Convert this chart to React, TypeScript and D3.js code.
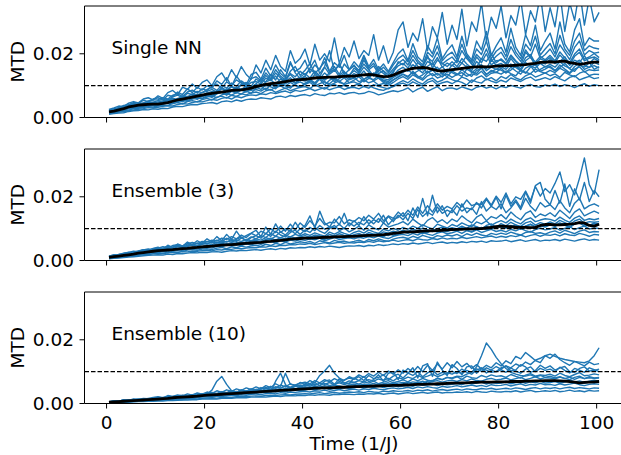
import React from "react";
import * as d3 from "d3";

// Values are MTD in units of 1e-4, sampled once per time unit (t = 0.5 … 100.5).
const UNIT = 1e-4;
const TIME = d3.range(0.5, 101, 1);
const PANEL_TITLES = ["Single NN", "Ensemble (3)", "Ensemble (10)"];
const X_TICKS = [0, 20, 40, 60, 80, 100];
const Y_TICKS = [0, 0.02];
const THRESHOLD = 0.01;
const X_LABEL = "Time (1/J)";
const Y_LABEL = "MTD";

const SINGLE_RUNS: number[][] = [
  [10,12,14,15,19,21,22,25,24,27, 26,29,28,33,35,34,38,41,40,44, 45,47,43,50,52,49,55,51,56,58, 57,62,60,58,65,67,63,69,66,70, 72,68,75,71,69,76,74,78,73,77, 79,74,76,82,78,71,75,80,84,81, 86,93,80,89,95,82,90,97,84,92, 93,88,96,91,86,95,99,92,97,90, 98,94,101,96,92,100,104,97,95,102, 99,105,97,103,100,94,101,106,98,103, 100],
  [12,14,17,19,21,24,26,28,31,30, 32,35,37,36,41,44,42,47,50,49, 53,57,54,60,63,58,66,62,68,71, 69,74,72,78,75,80,83,77,85,82, 86,91,84,89,94,87,92,96,88,93, 95,90,98,101,93,88,85,92,97,104, 108,101,112,105,99,110,116,103,109,113, 106,115,110,102,118,112,108,121,114,109, 117,111,124,118,113,122,127,116,120,125, 119,128,121,115,126,131,118,124,129,122, 125],
  [14,15,19,22,23,28,29,31,34,33, 36,39,38,44,47,43,50,53,49,56, 60,55,64,67,61,70,66,74,71,77, 80,75,84,88,79,86,92,84,90,95, 97,91,102,95,89,99,104,96,101,93, 100,106,97,92,103,98,94,90,99,108, 116,109,121,112,105,118,124,111,117,126, 119,113,127,121,110,124,131,118,125,115, 129,122,135,124,118,131,138,127,133,140, 131,137,126,142,134,128,139,145,132,136, 135],
  [15,18,20,24,27,29,33,32,37,38, 39,42,46,44,50,53,51,58,61,59, 64,68,62,71,75,70,78,74,82,85, 88,83,92,86,95,99,91,97,102,96, 104,110,99,106,113,101,108,115,103,109, 112,105,118,109,114,102,107,100,110,121, 128,120,134,125,117,131,138,124,130,136, 126,135,141,129,137,133,145,128,139,142, 136,146,138,131,149,142,137,152,144,139, 148,141,155,146,138,152,159,143,150,147, 149],
  [16,19,21,27,29,32,37,35,39,41, 38,44,49,45,53,57,52,61,65,60, 68,63,74,79,70,82,77,86,80,91, 95,88,102,96,90,105,99,110,101,94, 108,116,103,122,111,106,119,113,125,109, 117,128,112,123,119,131,114,108,118,127, 135,126,145,130,122,141,150,133,139,128, 146,137,129,152,143,138,156,134,148,141, 155,140,149,162,147,139,158,166,145,152, 161,148,157,170,153,145,164,158,172,151, 160],
  [17,20,24,26,31,34,36,39,41,42, 40,47,50,53,51,58,62,60,67,69, 72,69,77,82,75,86,83,90,94,88, 96,104,99,108,101,112,106,115,109,118, 114,121,108,125,117,129,112,122,131,118, 124,135,120,129,138,123,117,113,126,134, 142,150,137,146,155,140,148,158,135,152, 144,155,149,162,140,153,166,147,158,151, 160,151,168,157,146,172,163,155,170,159, 167,158,175,162,154,171,180,164,157,173, 166],
  [19,21,26,28,34,37,38,42,43,46, 45,49,55,51,60,64,59,69,72,68, 77,73,84,80,89,85,95,88,99,93, 104,97,112,118,105,121,113,125,108,119, 129,115,135,122,140,126,118,133,145,124, 138,129,146,125,140,135,122,118,132,149, 158,145,166,152,140,161,172,148,159,143, 165,152,171,158,147,176,160,153,182,164, 170,158,185,166,152,178,190,163,175,168, 182,169,176,191,164,180,172,194,170,185, 176],
  [20,23,27,31,35,38,42,41,47,45, 49,52,57,61,56,68,65,74,70,78, 82,88,79,93,86,98,91,104,96,110, 113,105,124,116,130,111,122,135,119,127, 138,124,146,131,120,142,150,128,139,133, 147,136,158,142,131,150,138,126,145,162, 170,155,182,161,150,176,165,188,158,171, 162,180,171,195,168,158,185,176,200,172, 184,170,196,178,165,205,188,174,192,181, 195,178,206,187,172,199,215,183,190,201, 188],
  [21,24,28,33,37,42,40,46,50,48, 53,57,54,65,70,62,76,72,82,78, 88,95,85,101,92,108,98,115,104,97, 121,110,132,118,140,124,115,138,128,145, 134,152,140,128,158,136,148,165,142,130, 155,143,168,150,162,138,147,134,152,170, 182,165,195,172,160,188,176,205,168,180, 190,172,210,185,168,198,182,215,176,192, 205,180,222,195,176,212,190,230,185,198, 215,190,228,205,182,220,240,196,210,202, 205],
  [22,26,31,35,38,44,46,44,52,55, 56,62,58,70,74,66,80,86,77,90, 85,98,105,92,112,100,118,108,96,122, 128,115,140,122,150,130,118,145,160,132, 148,170,138,155,175,142,160,135,168,150, 162,148,180,155,170,145,158,140,165,185, 196,175,210,180,165,205,190,225,178,195, 205,182,230,190,175,215,198,240,185,208, 220,192,245,205,185,230,210,255,196,215, 232,200,258,215,195,240,265,210,225,218, 215],
  [23,28,30,38,40,47,45,54,50,58, 62,55,70,66,80,72,90,78,95,86, 100,92,115,104,125,98,130,110,102,135, 142,120,155,130,165,138,125,170,145,155, 180,140,165,150,188,145,172,158,195,150, 175,158,195,160,182,150,168,145,172,200, 215,178,232,190,175,225,200,250,185,210, 228,190,255,200,180,240,212,270,195,225, 250,205,280,220,195,260,225,290,210,240, 265,215,300,230,205,275,310,225,250,240, 240],
  [25,30,36,34,45,50,46,58,62,55, 68,60,78,85,72,95,88,105,92,110, 118,100,128,140,115,150,125,160,135,120, 165,140,180,150,195,160,145,210,170,185, 215,165,230,180,200,175,250,170,220,190, 240,185,210,195,260,180,225,170,205,275, 300,220,265,240,310,210,285,250,330,230, 290,245,340,225,300,270,360,240,315,280, 350,250,320,290,370,260,335,300,385,270, 345,285,390,270,360,305,400,290,375,300, 330],
  [16,18,23,25,28,33,34,37,40,39, 43,46,44,52,55,50,58,62,57,66, 70,66,75,80,72,84,79,88,83,76, 92,98,87,103,95,108,100,92,106,112, 104,115,109,120,102,117,124,110,106,121, 126,112,120,129,115,124,110,105,118,128, 136,129,142,125,134,146,131,139,127,144, 141,133,150,138,129,147,155,136,144,152, 149,140,158,146,136,155,163,142,151,160, 157,146,165,152,140,160,170,151,158,163, 155],
  [18,22,25,30,33,36,40,44,42,47, 44,50,53,58,55,62,66,63,73,70, 76,82,78,90,84,96,88,102,110,94, 106,120,112,135,118,150,128,175,140,122, 130,155,180,138,160,210,145,170,135,150, 165,140,190,150,130,160,145,125,140,175, 165,185,150,172,160,195,155,180,170,160, 175,160,185,168,155,190,172,200,165,178, 180,168,192,175,160,188,198,170,184,178, 188,172,196,180,165,192,205,178,186,190, 182],
];
const SINGLE_MEAN = [18,20,24,28,33,36,39,40,41,42, 42,44,47,51,55,58,61,64,67,70, 73,76,78,80,82,85,86,87,89,92, 97,101,104,106,108,110,113,116,118,119, 120,122,124,125,126,127,127,128,129,130, 130,132,134,135,134,131,128,129,133,140, 146,150,154,156,157,155,151,147,146,148, 150,152,154,156,158,159,160,159,160,161, 162,163,163,164,165,166,168,170,173,174, 175,174,176,177,172,170,167,169,172,174, 174];

const ENS3_RUNS: number[][] = [
  [5,7,8,9,11,12,13,15,16,17, 18,17,20,19,22,21,23,25,24,26, 25,27,28,26,29,31,30,32,31,33, 34,32,35,37,34,38,36,40,39,41, 40,43,41,44,42,45,43,41,44,46, 45,47,44,48,46,50,47,49,52,50, 53,51,55,52,54,57,53,56,58,54, 57,55,59,56,60,58,61,57,62,60, 61,64,59,62,65,60,63,66,61,64, 63,66,62,67,64,61,65,68,63,66, 64],
  [6,8,10,10,13,14,16,18,18,21, 22,21,24,26,25,28,27,30,29,31, 32,30,34,33,36,35,38,37,39,41, 40,43,42,46,44,48,47,50,49,52, 51,54,50,53,56,52,55,57,54,56, 55,58,56,60,57,62,59,61,64,60, 63,66,62,68,65,64,69,66,71,67, 70,68,73,69,72,75,71,74,77,72, 76,73,78,75,80,74,79,82,76,81, 79,83,77,84,80,78,85,81,76,82, 80],
  [8,9,12,12,15,17,18,21,22,24, 25,27,24,29,31,28,33,35,32,36, 37,34,39,41,37,43,40,45,42,46, 48,44,51,47,54,50,57,52,55,59, 56,60,54,62,58,55,63,59,61,57, 60,64,58,66,62,68,63,60,67,71, 73,69,76,71,79,74,70,78,75,80, 77,82,75,84,79,86,80,77,85,81, 86,82,89,84,80,88,91,85,87,83, 89,93,86,95,90,84,92,96,88,91, 90],
  [9,11,13,15,16,19,21,22,25,26, 28,30,27,33,35,31,37,39,36,40, 42,39,45,43,48,46,50,47,52,49, 54,51,57,60,55,62,58,64,61,66, 63,68,65,70,62,67,72,66,69,71, 68,73,70,75,71,77,72,69,76,80, 82,78,85,80,88,83,79,86,90,84, 87,92,85,94,89,96,88,93,98,91, 95,90,98,93,100,94,89,97,102,96, 99,104,95,101,106,97,103,108,99,102, 101],
  [10,12,14,17,18,21,23,25,27,30, 31,33,35,32,37,39,36,41,43,40, 45,48,44,50,47,53,49,55,52,57, 59,55,62,58,65,61,68,64,70,67, 72,68,75,70,66,74,78,71,76,73, 77,72,80,75,82,78,74,84,79,86, 90,85,93,88,84,92,96,89,94,91, 97,93,101,95,90,99,104,97,102,108, 110,103,106,112,101,108,114,105,111,107, 114,109,118,112,106,116,121,113,110,117, 115],
  [11,13,16,17,20,22,25,26,29,31, 33,31,36,38,35,41,43,40,46,44, 48,46,51,54,50,56,53,58,55,61, 63,59,66,70,64,72,68,75,71,74, 78,73,80,76,72,82,77,84,79,75, 81,85,78,88,83,80,90,86,92,88, 95,90,99,93,102,96,91,100,105,98, 103,99,108,101,112,106,98,110,115,104, 116,109,120,112,107,118,123,111,119,114, 121,115,126,119,112,124,130,117,122,120, 122],
  [12,14,17,19,22,24,26,29,31,34, 36,34,40,38,43,41,46,49,45,51, 53,50,57,55,60,58,63,60,66,62, 68,64,72,67,76,71,79,74,82,77, 84,79,87,81,76,89,83,91,85,80, 88,93,86,96,90,85,98,93,101,95, 104,98,108,101,112,105,99,114,108,102, 113,107,118,111,106,121,115,124,110,119, 125,118,130,121,115,128,134,122,127,131, 129,124,136,127,120,133,140,126,131,128, 132],
  [14,17,19,23,25,29,28,33,36,34, 40,37,45,42,48,44,52,47,55,51, 60,55,64,58,70,62,66,74,61,72, 78,70,85,76,92,80,74,88,95,82, 96,88,104,92,85,100,110,94,102,90, 98,108,95,112,102,96,118,105,110,115, 122,112,130,118,108,126,135,120,128,116, 130,122,140,128,118,136,145,125,138,132, 144,130,152,138,128,148,156,135,146,140, 150,138,158,145,132,152,162,140,148,155, 148],
  [13,18,16,22,26,23,30,34,31,38, 42,36,48,40,52,45,58,50,62,54, 68,58,75,62,82,66,92,70,78,86, 95,75,105,82,115,88,100,92,120,98, 110,140,102,155,118,105,130,112,148,108, 125,110,138,115,128,120,142,112,130,135, 150,125,165,135,195,140,205,150,172,138, 160,142,178,150,165,145,185,155,170,160, 178,150,165,185,160,195,170,155,182,168, 175,160,188,165,150,180,195,162,172,178, 170],
  [12,15,19,21,24,27,29,33,32,37, 39,43,40,47,50,46,53,57,52,60, 58,64,61,70,66,75,68,80,72,85, 78,92,84,100,88,108,92,114,96,118, 104,125,108,132,112,120,118,138,115,128, 122,135,125,142,130,148,124,140,132,152, 138,158,142,168,148,172,152,178,158,170, 162,182,168,190,172,178,176,196,174,202, 182,212,178,200,192,218,188,232,202,226, 212,242,278,216,238,206,258,322,238,208, 285],
  [11,14,16,19,21,24,26,29,31,33, 35,38,36,42,45,41,48,51,47,55, 52,58,55,62,58,66,60,70,64,74, 68,78,72,85,76,90,80,96,84,100, 90,104,94,110,98,106,102,114,100,118, 108,120,112,128,115,132,118,138,122,142, 128,148,132,160,138,152,142,168,148,158, 150,172,155,165,160,182,165,192,170,198, 162,205,170,190,166,215,180,235,245,192, 175,220,180,240,170,225,190,245,185,220, 200],
  [9,12,14,15,19,20,23,24,28,29, 30,34,32,37,35,40,42,39,45,43, 46,44,50,48,53,51,56,54,58,56, 60,57,63,66,61,67,64,70,66,72, 69,74,71,77,68,75,79,72,76,78, 74,80,77,83,79,85,81,78,86,83, 88,92,86,95,90,87,97,93,99,95, 98,94,103,99,96,105,101,107,100,104, 106,101,110,104,99,108,113,106,109,105, 112,107,116,110,104,114,118,108,111,115, 112],
];
const ENS3_MEAN = [10,12,14,16,18,20,23,25,27,29, 31,32,33,34,36,37,38,40,41,43, 44,45,47,48,49,50,51,53,54,55, 56,57,59,60,62,63,65,67,68,69, 70,70,71,72,73,73,74,75,75,76, 76,77,78,79,79,80,81,83,85,87, 89,90,90,91,92,93,93,94,95,96, 97,98,98,99,99,100,100,102,104,106, 108,107,106,105,104,104,103,104,110,113, 113,112,112,113,114,116,119,118,110,108, 114];

const ENS10_RUNS: number[][] = [
  [2,2,3,4,4,5,6,6,7,7, 8,8,9,9,10,11,11,12,12,14, 14,15,14,16,17,16,18,19,18,20, 20,21,20,22,23,22,24,25,24,26, 25,27,26,28,27,26,29,28,30,29, 28,30,29,31,30,32,29,31,33,30, 32,34,31,33,35,32,34,36,33,35, 34,36,35,37,34,38,36,35,39,37, 36,38,37,40,36,39,41,37,38,40, 38,41,37,39,42,38,40,37,41,39, 40],
  [3,3,4,5,6,6,7,8,8,9, 10,11,10,12,13,12,14,15,14,16, 17,18,17,19,20,19,21,22,21,23, 24,23,25,26,25,27,28,27,29,30, 31,30,32,34,31,33,35,32,34,36, 35,37,34,38,36,35,39,37,40,38, 39,41,38,42,40,43,39,42,44,41, 43,45,42,46,44,43,47,45,48,44, 46,48,45,49,47,44,48,50,46,49, 47,50,46,49,51,47,50,48,46,49, 48],
  [3,4,5,5,7,7,9,9,10,11, 12,13,12,15,14,16,17,16,19,20, 21,20,23,22,24,26,25,27,26,29, 30,28,31,33,30,34,32,36,35,37, 38,36,40,39,42,38,41,44,40,43, 45,42,46,44,48,45,43,47,49,46, 48,51,47,52,49,53,50,48,54,51, 53,56,52,55,58,54,57,53,59,56, 57,60,55,59,62,56,60,58,63,59, 60,57,62,58,61,64,59,56,60,62, 60],
  [4,5,6,7,8,10,10,12,13,13, 15,14,17,16,19,18,21,20,23,24, 25,27,26,28,30,29,32,31,34,33, 35,37,34,39,38,41,40,43,42,45, 44,47,45,49,46,50,48,47,52,50, 51,54,52,56,53,55,58,54,57,55, 57,60,56,62,59,61,64,58,63,61, 62,65,61,67,64,66,69,63,68,66, 66,70,65,68,72,67,71,69,73,68, 69,72,67,70,74,68,71,66,70,73, 70],
  [4,6,7,8,10,11,12,13,14,16, 17,16,19,21,20,23,22,25,27,26, 29,31,30,33,32,35,37,34,38,40, 39,42,41,44,46,43,47,49,46,50, 52,50,54,51,56,53,57,55,52,58, 60,57,61,59,63,58,62,65,60,64, 66,63,68,65,70,64,69,72,67,71, 73,69,75,71,77,72,70,76,79,74, 76,80,74,78,82,75,79,84,77,81, 80,77,83,79,75,82,86,78,81,79, 80],
  [5,6,8,10,9,12,14,13,16,17, 19,18,22,21,24,26,23,28,30,27, 32,35,31,37,34,40,36,42,39,44, 41,46,50,44,52,48,55,51,57,53, 58,54,61,57,63,56,60,65,59,64, 66,61,68,64,70,62,67,72,65,69, 74,68,77,71,79,73,70,80,75,82, 78,84,76,86,81,79,88,83,90,85, 87,82,91,85,80,89,94,86,90,88, 92,86,95,88,84,91,97,87,89,93, 90],
  [5,8,7,11,10,14,13,16,15,19, 21,18,25,22,27,24,30,26,33,29, 36,32,40,35,43,38,46,41,49,44, 52,46,56,50,62,54,95,60,58,64, 67,62,72,65,75,68,78,70,74,80, 76,84,72,88,78,82,90,75,86,92, 80,95,88,100,84,96,105,90,98,92, 102,94,108,98,92,105,112,96,104,100, 106,98,112,102,95,108,115,100,110,104, 108,100,114,104,96,110,105,98,112,106, 100],
  [3,4,5,7,7,9,9,11,12,13, 13,15,16,18,17,20,21,22,21,24, 26,25,28,27,30,29,32,31,34,33, 36,34,39,37,41,38,43,40,45,42, 46,44,49,47,51,48,50,53,49,54, 55,58,54,59,56,61,57,60,63,58, 62,66,61,68,64,70,72,78,75,82, 80,86,84,92,98,115,150,190,170,145, 125,110,98,92,88,86,90,84,88,82, 86,80,84,78,83,76,82,78,84,80, 82],
  [6,9,7,11,9,13,10,14,12,16, 15,19,17,22,19,25,22,28,24,31, 28,34,30,37,32,40,35,43,38,46, 42,50,45,54,48,58,52,62,55,66, 60,72,65,88,102,120,95,80,72,84, 78,90,82,94,86,98,88,102,92,106, 95,110,98,116,100,120,104,124,108,128, 112,132,115,126,110,122,108,120,112,128, 118,134,125,148,140,160,148,135,128,150, 142,155,138,128,120,132,125,118,130,122, 125],
  [3,6,8,10,8,12,11,14,13,15, 16,18,19,21,20,24,23,27,25,29, 30,42,70,85,60,40,36,40,39,44, 41,46,49,44,52,48,55,50,53,58, 55,61,57,64,60,66,58,69,63,71, 66,72,68,75,70,77,73,79,71,81, 76,83,78,88,81,86,92,84,90,97, 92,99,95,104,98,109,101,112,105,116, 108,118,112,124,117,130,122,136,142,150, 155,148,142,138,135,132,130,128,134,150, 175],
  [2,4,4,6,7,7,9,10,10,12, 13,15,14,17,16,19,18,21,20,23, 24,22,26,28,25,29,27,31,30,33, 32,35,34,38,36,39,37,41,43,40, 42,45,43,47,49,44,48,46,50,47, 49,52,48,53,51,55,50,54,56,52, 55,58,54,60,57,59,62,56,61,59, 60,63,59,65,62,64,67,61,66,63, 64,67,62,66,69,63,68,65,70,64, 66,69,64,67,71,65,68,63,67,70, 66],
  [4,7,9,8,12,10,13,11,15,13, 17,14,20,16,22,18,25,20,27,22, 29,24,32,26,34,28,38,30,40,32, 45,34,50,38,70,95,60,45,55,48, 62,58,66,55,70,74,60,78,65,62, 80,72,85,68,75,90,70,95,100,75, 105,95,112,80,118,125,85,130,105,88, 122,110,90,115,118,95,110,105,98,100, 112,118,102,105,122,115,98,104,120,110, 118,105,112,116,100,98,110,115,102,104, 108],
];
const ENS10_MEAN = [4,5,6,7,8,9,10,11,12,13, 14,15,16,18,19,20,21,22,23,25, 26,27,28,29,30,31,32,33,34,35, 36,37,38,39,40,41,42,43,44,45, 46,47,48,48,49,49,50,51,51,52, 53,53,54,54,55,55,56,56,57,57, 58,58,59,60,60,61,61,62,62,63, 64,64,65,65,66,66,67,67,67,68, 68,68,69,69,69,70,70,71,71,72, 72,72,71,70,69,67,65,66,67,68, 69];

const PANEL_RUNS = [SINGLE_RUNS, ENS3_RUNS, ENS10_RUNS];
const PANEL_MEANS = [SINGLE_MEAN, ENS3_MEAN, ENS10_MEAN];

const FONT = "'DejaVu Sans', sans-serif";
const FS = 18.5;
const BLUE = "#1f77b4";

export default function App() {
  const W = 621;
  const H = 455;
  const left = 84.5;
  const right = 623.6;
  const tops = [6, 149, 292];
  const ph = 111.5;
  const x = d3.scaleLinear().domain([-4.5, 105.5]).range([left, right]);

  return (
    <svg
      width={W}
      height={H}
      viewBox={`0 0 ${W} ${H}`}
      style={{ position: "absolute", left: 0, top: 0, background: "#fff" }}
      fontFamily={FONT}
    >
      <rect x={0} y={0} width={W} height={H} fill="#fff" />
      {PANEL_TITLES.map((title, p) => {
        const top = tops[p];
        const bottom = top + ph;
        const y = d3.scaleLinear().domain([0, 0.035]).range([bottom, top]);
        const line = d3
          .line<number>()
          .x((_, i) => x(TIME[i]))
          .y((v) => y(v * UNIT));
        const clipId = `clip-${p}`;
        return (
          <g key={title}>
            <defs>
              <clipPath id={clipId}>
                <rect x={left} y={top} width={right - left} height={ph} />
              </clipPath>
            </defs>
            <g clipPath={`url(#${clipId})`}>
              {PANEL_RUNS[p].map((run, k) => (
                <path
                  key={k}
                  d={line(run) || ""}
                  fill="none"
                  stroke={BLUE}
                  strokeWidth={1.4}
                  strokeLinejoin="round"
                />
              ))}
              <line
                x1={left}
                x2={right}
                y1={y(THRESHOLD)}
                y2={y(THRESHOLD)}
                stroke="#000"
                strokeWidth={1.2}
                strokeDasharray="4.5,2"
              />
              <path
                d={line(PANEL_MEANS[p]) || ""}
                fill="none"
                stroke="#000"
                strokeWidth={2.8}
                strokeLinejoin="round"
              />
            </g>
            <line x1={left} x2={left} y1={top} y2={bottom} stroke="#000" strokeWidth={1} />
            <line x1={left} x2={right} y1={top} y2={top} stroke="#000" strokeWidth={1} />
            <line x1={left} x2={right} y1={bottom} y2={bottom} stroke="#000" strokeWidth={1} />
            <line x1={right} x2={right} y1={top} y2={bottom} stroke="#000" strokeWidth={1} />
            {Y_TICKS.map((t) => (
              <g key={t}>
                <line x1={left - 5} x2={left} y1={y(t)} y2={y(t)} stroke="#000" strokeWidth={1} />
                <text x={left - 10.5} y={y(t)} dy="0.36em" textAnchor="end" fontSize={FS} fill="#000">
                  {d3.format(".2f")(t)}
                </text>
              </g>
            ))}
            {X_TICKS.map((t) => (
              <line key={t} x1={x(t)} x2={x(t)} y1={bottom} y2={bottom + 5} stroke="#000" strokeWidth={1} />
            ))}
            {p === PANEL_TITLES.length - 1 &&
              X_TICKS.map((t) => (
                <text key={`l${t}`} x={x(t)} y={bottom + 25} textAnchor="middle" fontSize={FS} fill="#000">
                  {t}
                </text>
              ))}
            <text x={x(1)} y={y(0.02)} fontSize={FS} fill="#000">
              {title}
            </text>
            <text
              transform={`translate(23.5, ${(top + bottom) / 2}) rotate(-90)`}
              textAnchor="middle"
              fontSize={FS}
              fill="#000"
            >
              {Y_LABEL}
            </text>
          </g>
        );
      })}
      <text x={(left + right) / 2} y={450} textAnchor="middle" fontSize={FS} fill="#000">
        {X_LABEL}
      </text>
    </svg>
  );
}
